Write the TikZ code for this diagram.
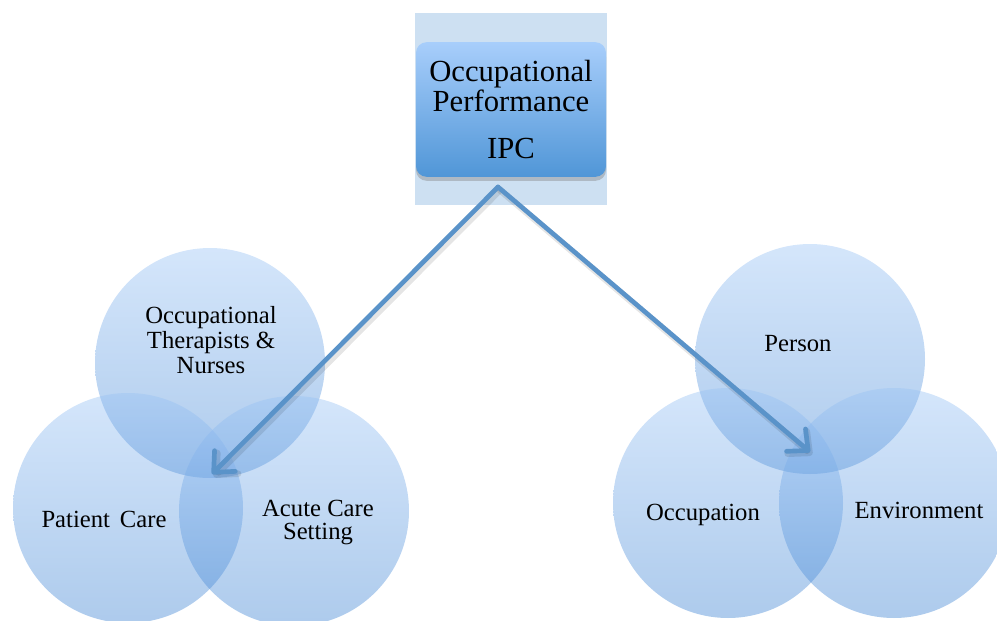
\documentclass[tikz,border=0pt]{standalone}
\usepackage{fontspec}
\setmainfont{Liberation Serif}
\usetikzlibrary{arrows.meta,shadows}
\definecolor{bgrect}{RGB}{205,224,242}
\definecolor{boxtop}{RGB}{168,206,251}
\definecolor{boxbot}{RGB}{80,150,215}
\definecolor{arrowc}{RGB}{90,147,201}
\definecolor{circtop}{RGB}{153,195,245}
\definecolor{circbot}{RGB}{60,130,210}
\begin{document}
\begin{tikzpicture}[x=0.75pt,y=-0.75pt,
  venn/.style={circle, minimum size=172.5pt, inner sep=0pt, fill opacity=0.42,
    top color=circtop, bottom color=circbot, draw=none},
  lbl/.style={font=\fontsize{18.5}{18.75}\selectfont, text=black, align=center, inner sep=0pt},
  conn/.style={line width=3.5pt, arrowc, line cap=round,
    -{Straight Barb[length=12pt,width=22pt,round]}},
  connshadow/.style={line width=5pt, black, opacity=0.1, line cap=round,
    -{Straight Barb[length=12pt,width=22pt,round]}},
  ipcbox/.style={rounded corners=8pt, minimum width=142.5pt, minimum height=101pt,
    top color=boxtop, bottom color=boxbot, inner sep=0pt, align=center,
    drop shadow={shadow xshift=0pt, shadow yshift=-3pt, opacity=0.4},
    font=\fontsize{23}{21}\selectfont}]
\useasboundingbox (0,0) rectangle (997,621);
\fill[bgrect] (415,13) rectangle (607,205);
\node[ipcbox] (ipc) at (511,109.5) {Occupational\\Performance\\[14pt]IPC};

% left Venn
\node[venn] (lt) at (210,363) {};
\node[venn] (lbl1) at (128,508) {};
\node[venn] (lbr) at (294,511) {};
% right Venn
\node[venn] (rt) at (810,359) {};
\node[venn] (rbl) at (728,503) {};
\node[venn] (rbr) at (894,503) {};

\node[lbl] (t1) at (211,340) {Occupational\\Therapists \&\\Nurses};
\node[lbl, anchor=base] (t2) at (104,527) {Patient\hspace{0.4em}Care};
\node[lbl] (t3) at (318,522) {Acute Care\\[-1.5pt]Setting};
\node[lbl, anchor=base] (t4) at (798,351) {Person};
\node[lbl, anchor=base] (t5) at (703,520) {Occupation};
\node[lbl, anchor=base] (t6) at (919,518) {Environment};

\coordinate (apex) at (498,187);
\coordinate (ltip) at (212,474);
\coordinate (rtip) at (810,452);
\coordinate (apexs) at (500,190);
\coordinate (ltips) at (214,477);
\coordinate (rtips) at (812,455);
\draw[connshadow] (apexs) -- (ltips);
\draw[connshadow] (apexs) -- (rtips);
\draw[conn] (apex) -- (ltip);
\draw[conn] (apex) -- (rtip);
\end{tikzpicture}
\end{document}
